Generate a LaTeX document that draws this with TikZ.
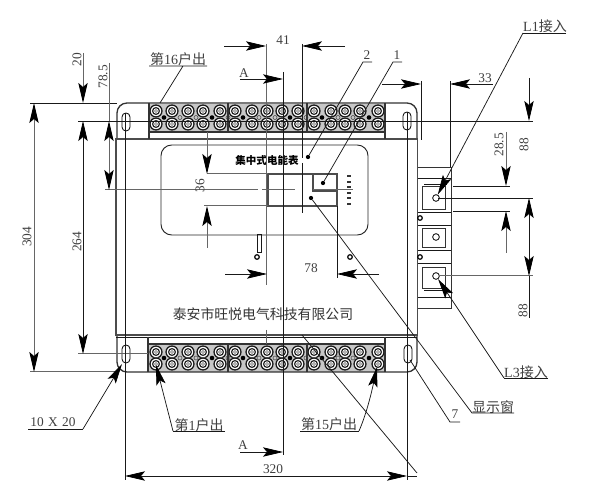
\documentclass[tikz,border=0pt]{standalone}
\usepackage{fontspec}
\usetikzlibrary{arrows.meta}
\setmainfont{Liberation Serif}
\newfontfamily\cjk{Noto Sans CJK SC}
\tikzset{
  x=0.75pt,y=-0.75pt,
  thinl/.style={line width=0.55pt,draw=black!90},
  greyl/.style={line width=0.75pt,draw=black!60},
  heavy/.style={line width=1pt,draw=black!80},
  dimtip/.style={-{Stealth[length=15pt,width=7pt,inset=3pt,color=black]}},
  dimboth/.style={{Stealth[length=15pt,width=7pt,inset=3pt,color=black]}-{Stealth[length=15pt,width=7pt,inset=3pt,color=black]}},
  leadtip/.style={-{Stealth[length=15pt,width=7pt,inset=3pt,color=black]}},
  lab/.style={inner sep=0pt,font=\fontsize{10}{10}\selectfont,text=black!75},
  cjklab/.style={inner sep=0pt,font=\fontsize{10.5}{11}\selectfont,text=black!75},
  dot/.style={circle,fill=black,inner sep=0pt,minimum size=3.2pt},
  ring/.style={circle,draw=black,line width=0.6pt,fill=white,inner sep=0pt,minimum size=5pt},
}
\begin{document}
\begin{tikzpicture}
\useasboundingbox[fill=white] (0,0) rectangle (600,498);

% terminal blocks
\fill[black!22] (149,104) rectangle (385,132);
\fill[black!22] (148,344) rectangle (385,372);
\foreach \r/\ya/\yb/\ym in {t/111/124/117.5,b/352/364/358}{
  \foreach \xx in {156,172,188,203,220,235,252,267,282,298,314,331,345,360,378}{
    \foreach \yy in {\ya,\yb}{
      \fill[white] (\xx,\yy) circle (6.6);
      \draw[line width=1pt,draw=black!90] (\xx,\yy) circle (6);
      \draw[line width=0.9pt,draw=black!85] (\xx,\yy) circle (3.4);
      \draw[line width=0.4pt,draw=black!60] (\xx,\yy) circle (1.4);
    }
  }
  \foreach \xx in {180,196,228,259,275,306,338,353}{
    \draw[line width=0.45pt,draw=black!70] (\xx,\ym) circle (2);
  }
}
\foreach \xx in {164,212,243,290,322,369}{
  \fill (\xx,117.5) circle (2.3);
  \fill (\xx,358) circle (2.3);
}
% housing
\draw[heavy,rounded corners=7.5pt] (117,139)--(117,103)--(417,103)--(417,139);
\draw[heavy,rounded corners=7.5pt] (117,335)--(117,372)--(417,372)--(417,335);
\draw[line width=1.2pt,draw=black!70] (116,139) rectangle (417.5,335);
\draw[thinl] (116,337.5)--(417,337.5);
\draw[heavy] (149,103)--(149,139) (228,103)--(228,132) (307,103)--(307,132) (385,103)--(385,139);
\draw[heavy] (149,132)--(385,132);
\draw[heavy] (148,337)--(148,372) (228,344)--(228,372) (307,344)--(307,372) (385,337)--(385,372);
\draw[heavy] (148,344)--(385,344);
% slots
\foreach \sx/\sy in {126/113,407/112,126/345,408/345}{
  \draw[line width=0.6pt,rounded corners=3pt] (\sx-4,\sy) rectangle (\sx+4,\sy+18);
}
% panel
\draw[line width=0.7pt,draw=black!85,rounded corners=8pt] (161,145) rectangle (368,235);
\node[inner sep=0pt,font=\fontsize{7.9}{8}\selectfont\cjk\bfseries] (title) at (267,160) {集中式电能表};
\draw[line width=1.1pt,draw=black!70] (268,174)--(337,174)--(337,206)--(268,206)--cycle;
\draw[line width=1.1pt,draw=black!70] (313,174)--(313,191)--(337,191);
\foreach \yy in {176,182,187,193,198,204}{\fill[black!80] (346.5,\yy-1) rectangle (350.5,\yy+1.2);}
\draw[thinl] (257,234) rectangle (261,252);
\draw[line width=0.9pt] (257,257) circle (2.3);
\draw[line width=0.9pt] (350,257) circle (2.3);
% right module
\draw[line width=0.6pt,draw=black!80] (418,167)--(451,167)--(451,308)--(418,308);
\foreach \yy in {178,212,225,250,263,297}{\draw[thinl] (418,\yy)--(451,\yy);}
\foreach \ya/\yb in {186/209,228/247,267/288}{
  \draw[line width=0.7pt,draw=black!80] (422,\ya) rectangle (445,\yb);
}
\draw[thinl] (424,184)--(447,184) (424,290)--(447,290);
\node[ring] (cL1) at (436,198) {};
\node[ring] (cM) at (436,237) {};
\node[ring] (cL3) at (436,276) {};
\draw[line width=0.9pt] (420,218) circle (2.3) (420,257) circle (2.3);

% extension lines
\draw[thinl] (30,103)--(117,103) (78,121)--(533,121);
\draw[greyl] (30,372)--(118,372) (78,354)--(148,354);
\draw[greyl] (105,190)--(258,190) (262,190)--(295,190) (313,190)--(353,190);
\draw[greyl] (207,174)--(268,174) (204,206)--(268,206);
\draw[greyl] (266,44)--(266,285) (266,330)--(266,344);
\draw[thinl] (302,44)--(302,158) (302,163)--(302,213);
\draw[thinl] (283,72)--(283,455);
\draw[thinl] (125,113)--(125,480);
\draw[thinl] (407,112)--(407,480);
\draw[thinl] (337,206)--(337,278);
\draw[thinl] (421,81)--(421,140);
\draw[thinl] (450,81)--(450,167);
\draw[thinl] (453,186)--(510,186) (453,211)--(510,211);
\draw[thinl] (438,198)--(533,198);
\draw[greyl] (439,276)--(533,276);

% dimension lines
\draw[greyl,dimboth] (34,103)--(34,372);
\draw[thinl,dimboth] (83,121)--(83,354);
\draw[greyl,dimtip] (83,53)--(83,103);
\draw[greyl,dimboth] (109,121)--(109,190);
\draw[greyl] (109,63)--(109,121);
\draw[greyl,dimtip] (207,132)--(207,174);
\draw[greyl,dimtip] (207,248)--(207,206);
\draw[thinl,dimtip] (224,46)--(266,46);
\draw[thinl,dimtip] (345,46)--(302,46);
\draw[thinl,dimtip] (225,274)--(267,274);
\draw[thinl,dimtip] (379,274)--(337,274);
\draw[thinl,dimtip] (382,84)--(421,84);
\draw[thinl,dimtip] (493,84)--(450,84);
\draw[greyl,dimtip] (506,132)--(506,186);
\draw[greyl,dimtip] (506,253)--(506,211);
\draw[thinl,dimtip] (529,78)--(529,121);
\draw[thinl,dimboth] (529,198)--(529,276);
\draw[thinl] (529,276)--(529,318);
\draw[thinl,dimboth] (125,476)--(407,476);
\draw[thinl] (407,476)--(417,476);

% section marks
\node[lab] (A1) at (244,73) {A};
\node[lab] (A2) at (243,445) {A};
\draw[thinl,dimtip] (240,79)--(283,79);
\draw[thinl,dimtip] (240,452)--(283,452);

% dimension texts
\node[lab] (d41) at (283,40) {41};
\node[lab] (d33) at (485,78) {33};
\node[lab] (d78) at (311,268) {78};
\node[lab] (d320) at (273,469) {320};
\node[lab,rotate=90] (d20) at (77,60) {20};
\node[lab,rotate=90] (d785) at (103,77) {78.5};
\node[lab,rotate=90] (d36) at (200,186) {36};
\node[lab,rotate=90] (d304) at (27,237) {304};
\node[lab,rotate=90] (d264) at (77,242) {264};
\node[lab,rotate=90] (d285) at (499,145) {28.5};
\node[lab,rotate=90] (d88a) at (524,145) {88};
\node[lab,rotate=90] (d88b) at (523,311) {88};

% leader labels
\node[cjklab] (l16) at (178,59) {{\cjk 第}16{\cjk 户出}};
\coordinate (u16a) at (149,66); \coordinate (u16b) at (207,66);
\coordinate (t16) at (160,103);
\draw[thinl] (u16a)--(u16b) (183,66)--(t16);

\node[lab] (n2) at (367,55) {2};
\coordinate (u2) at (363,62); \coordinate (u2b) at (372,62);
\node[dot] (p2) at (308,157) {};
\draw[thinl] (u2b)--(u2)--(p2);

\node[lab] (n1) at (397,55) {1};
\coordinate (u1) at (393,62); \coordinate (u1b) at (402,62);
\node[dot] (p1) at (323,183) {};
\draw[thinl] (u1b)--(u1)--(p1);

\node[cjklab] (lL1) at (545,26) {L1{\cjk 接入}};
\coordinate (uL1a) at (523,33); \coordinate (uL1b) at (566,33);
\draw[thinl] (uL1b)--(uL1a);
\draw[thinl,leadtip] (uL1a)--(cL1);

\node[cjklab] (lL3) at (526,372) {L3{\cjk 接入}};
\coordinate (uL3a) at (504,378); \coordinate (uL3b) at (548,378);
\draw[thinl] (uL3b)--(uL3a);
\draw[thinl,leadtip] (uL3a)--(cL3);

\node[cjklab] (lwin) at (493,407) {\cjk 显示窗};
\coordinate (uwa) at (472,413); \coordinate (uwb) at (514,413);
\node[dot] (pw) at (311,198) {};
\draw[thinl] (uwb)--(uwa)--(pw);

\node[lab] (n7) at (455,414) {7};
\coordinate (u7a) at (450,422); \coordinate (u7b) at (460,422);
\coordinate (s7) at (410,360);
\draw[thinl] (u7b)--(u7a)--(s7);

\coordinate (da) at (302,335); \coordinate (db) at (417,473);
\draw[thinl] (da)--(db);

\node[cjklab] (l1) at (199,425) {{\cjk 第}1{\cjk 户出}};
\coordinate (u1a) at (173,431); \coordinate (u1c) at (225,431);
\coordinate (t1) at (156,365);
\draw[thinl] (u1c)--(u1a);
\draw[thinl,leadtip] (u1a)--(t1);

\node[cjklab] (l15) at (329,424) {{\cjk 第}15{\cjk 户出}};
\coordinate (u15a) at (300,431); \coordinate (u15b) at (359,431);
\coordinate (t15) at (377,367);
\draw[thinl] (u15a)--(u15b);
\draw[thinl,leadtip] (u15b) .. controls (366,415) and (371,395) .. (t15);

\node[lab] (l10) at (53,422) {10\,\,X\,\,20};
\coordinate (u10a) at (28,429); \coordinate (u10b) at (83,429);
\coordinate (t10) at (122,364);
\draw[thinl] (u10a)--(u10b);
\draw[thinl,leadtip] (u10b)--(t10);

\node[inner sep=0pt,font=\fontsize{10.4}{11}\selectfont\cjk,text=black!80] (co) at (263,314) {泰安市旺悦电气科技有限公司};
\end{tikzpicture}
\end{document}
